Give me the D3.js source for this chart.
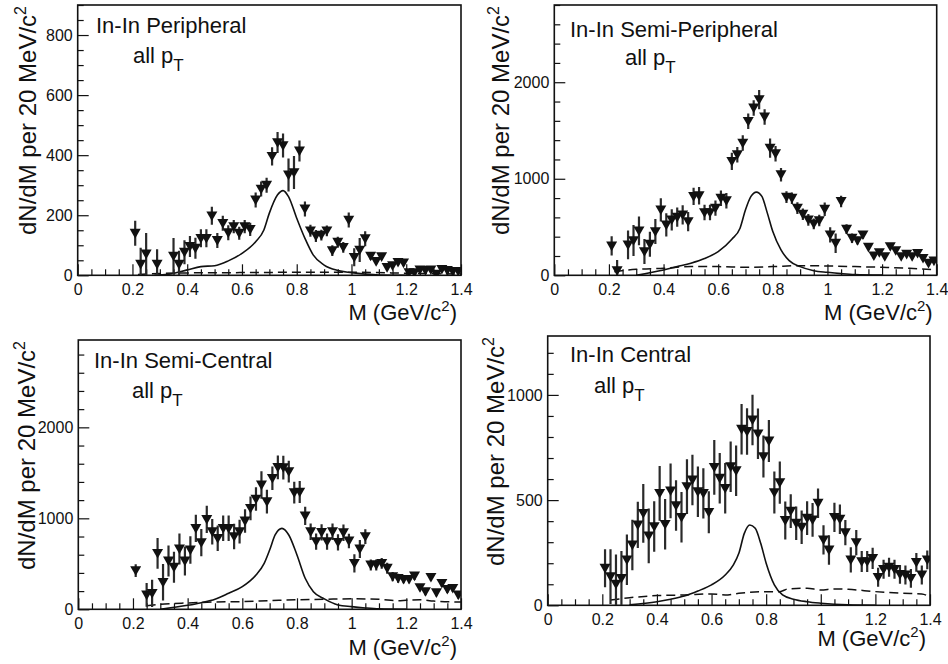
<!DOCTYPE html>
<html><head><meta charset="utf-8">
<script src="https://cdn.jsdelivr.net/npm/d3@7"></script>
<style>body{margin:0;background:#fff}svg{display:block}text{font-family:"Liberation Sans",Arial,Helvetica,sans-serif;fill:#111}</style>
</head><body><svg id="c" width="948" height="664"></svg>
<script>
// ---------- data ----------
const panelTitles = ["In-In Peripheral","In-In Semi-Peripheral","In-In Semi-Central","In-In Central"];
const xTickValues = [0,0.2,0.4,0.6,0.8,1,1.2,1.4];
const xTickLabels = ["0","0.2","0.4","0.6","0.8","1","1.2","1.4"];

// Peripheral
const periphM = [0.21,0.23,0.25,0.29,0.35,0.37,0.39,0.41,0.43,0.45,0.47,0.49,0.51,0.53,0.55,0.57,0.59,0.61,0.63,0.65,0.67,0.69,0.71,0.73,0.75,0.77,0.79,0.81,0.83,0.85,0.87,0.89,0.91,0.93,0.95,0.97,0.99,1.01,1.03,1.05,1.07,1.09,1.11,1.13,1.15,1.17,1.19,1.21,1.23,1.25,1.27,1.29,1.31,1.33,1.35,1.37,1.39];
const periphY = [140,37,71,37,64,37,77,96,90,123,123,198,116,173,142,162,140,162,153,251,287,300,396,442,432,334,342,414,221,148,131,134,148,82,110,93,184,60,84,122,64,46,62,26,32,43,41,9,9,18,16,18,4,20,16,13,13];
const periphErr = [42,55,70,50,60,45,40,35,35,30,30,30,25,25,25,22,22,22,22,25,25,25,30,35,40,55,55,35,25,20,20,18,18,18,18,18,25,30,40,25,12,10,10,8,8,8,8,6,6,6,6,6,6,6,6,6,6];
const periphRhoM = [0.28,0.33,0.4,0.45,0.5,0.55,0.6,0.65,0.68,0.7,0.73,0.75,0.77,0.8,0.83,0.86,0.9,0.95,1.0,1.05,1.1,1.2];
const periphRhoY = [0,3,18,29,32,48,73,112,151,207,268,282,262,190,123,68,34,16,9,4,1,0];
const periphBkgM = [0.22,0.3,0.4,0.6,0.8,1.0,1.2,1.4];
const periphBkgY = [3,6,8,9,10,10,7,4];

// Semi-Peripheral
const semiPerM = [0.21,0.23,0.27,0.29,0.31,0.33,0.35,0.37,0.39,0.41,0.43,0.45,0.47,0.49,0.51,0.53,0.55,0.57,0.59,0.61,0.63,0.65,0.67,0.69,0.71,0.73,0.75,0.77,0.79,0.81,0.83,0.85,0.87,0.89,0.91,0.93,0.95,0.97,0.99,1.01,1.03,1.05,1.07,1.09,1.11,1.13,1.15,1.17,1.19,1.21,1.23,1.25,1.27,1.29,1.31,1.33,1.35,1.37,1.39];
const semiPerY = [304,48,315,360,460,246,322,453,678,522,574,602,626,557,817,824,650,650,696,799,772,1180,1249,1370,1595,1734,1820,1640,1318,1260,1042,810,799,696,633,574,533,567,685,419,332,765,478,384,360,419,291,201,235,194,298,256,194,218,194,228,176,125,149];
const semiPerErr = [100,110,150,160,150,130,130,130,120,120,110,100,100,100,90,90,80,80,80,80,80,90,80,80,80,80,100,80,100,80,70,60,60,60,60,60,55,60,70,80,100,60,50,50,40,40,30,30,25,25,20,20,20,20,20,20,20,20,20];
const semiPerRhoM = [0.3,0.4,0.45,0.5,0.55,0.6,0.65,0.68,0.7,0.72,0.74,0.76,0.78,0.8,0.83,0.86,0.9,0.95,1.0,1.05,1.1,1.2];
const semiPerRhoY = [0,55,90,125,173,246,374,488,678,817,862,817,644,453,263,152,90,48,31,17,7,2];
const semiPerBkgM = [0.22,0.3,0.4,0.5,0.6,0.7,0.8,0.9,1.0,1.1,1.2,1.3,1.4];
const semiPerBkgY = [38,62,73,90,90,83,90,100,97,90,83,73,55];

// Semi-Central
const semiCenM = [0.21,0.25,0.27,0.29,0.31,0.33,0.35,0.37,0.39,0.41,0.43,0.45,0.47,0.49,0.51,0.53,0.55,0.57,0.59,0.61,0.63,0.65,0.67,0.69,0.71,0.73,0.75,0.77,0.79,0.81,0.83,0.85,0.87,0.89,0.91,0.93,0.95,0.97,0.99,1.01,1.03,1.05,1.07,1.09,1.11,1.13,1.15,1.17,1.19,1.21,1.23,1.25,1.27,1.29,1.31,1.33,1.35,1.37,1.39];
const semiCenY = [425,158,176,615,297,531,462,663,531,652,890,733,989,853,780,890,890,799,853,971,1110,1212,1366,1183,1440,1560,1557,1513,1282,1289,1026,853,744,846,744,853,736,842,751,505,663,799,487,487,505,451,359,341,330,330,366,238,194,352,183,286,220,231,158];
const semiCenErr = [70,130,150,170,200,170,170,170,160,150,150,150,150,140,140,140,140,140,130,130,130,130,150,130,130,130,130,120,120,120,100,90,90,90,90,90,90,90,80,100,100,80,60,60,60,60,50,50,45,45,45,40,40,40,40,40,40,40,40];
const semiCenRhoM = [0.3,0.4,0.45,0.5,0.55,0.6,0.65,0.68,0.7,0.72,0.745,0.77,0.8,0.83,0.86,0.9,0.95,1.0,1.05,1.1,1.2];
const semiCenRhoY = [0,44,73,110,176,249,377,505,652,817,890,817,597,341,194,114,48,29,15,5,0];
const semiCenBkgM = [0.25,0.3,0.4,0.5,0.6,0.7,0.8,0.9,1.0,1.1,1.17,1.2,1.25,1.3,1.4];
const semiCenBkgY = [40,55,70,80,85,95,105,110,115,110,95,100,105,90,80];

// Central
const centralM = [0.21,0.23,0.25,0.27,0.29,0.31,0.33,0.35,0.37,0.39,0.41,0.43,0.45,0.47,0.49,0.51,0.53,0.55,0.57,0.59,0.61,0.63,0.65,0.67,0.69,0.71,0.73,0.75,0.77,0.79,0.81,0.83,0.85,0.87,0.89,0.91,0.93,0.95,0.97,0.99,1.01,1.03,1.05,1.07,1.09,1.11,1.13,1.15,1.17,1.19,1.21,1.23,1.25,1.27,1.29,1.31,1.33,1.35,1.37,1.39];
const centralY = [176,136,101,128,216,287,382,437,330,374,532,385,544,474,418,564,596,540,532,442,656,604,556,659,640,837,826,881,815,707,781,536,583,403,448,390,371,414,406,485,311,263,418,409,345,216,298,208,208,223,133,171,181,171,147,144,128,204,144,216];
const centralErr = [90,130,140,130,120,120,110,140,130,120,130,120,130,120,120,130,120,120,120,100,130,120,120,120,120,120,110,120,120,100,100,100,100,90,80,80,80,80,80,70,70,70,70,70,60,60,60,50,50,50,45,45,45,45,45,45,45,45,45,45];
const centralRhoM = [0.3,0.4,0.45,0.5,0.55,0.6,0.65,0.68,0.7,0.72,0.74,0.76,0.78,0.8,0.83,0.86,0.9,0.95,1.0,1.05,1.1,1.2];
const centralRhoY = [2,17,29,44,68,97,144,192,247,342,382,366,295,200,97,49,29,17,10,5,2,0];
const centralBkgM = [0.23,0.3,0.4,0.5,0.6,0.65,0.7,0.8,0.85,0.88,0.95,1.0,1.05,1.1,1.2,1.3,1.37,1.4];
const centralBkgY = [25,36,46,49,54,49,57,65,65,78,81,73,78,76,65,57,54,38];

// ---------- layout (not data) ----------
const panels = [
  {title:panelTitles[0], f:{l:77.7,r:461,t:5,b:275.3}, ymax:900, yMajor:[0,200,400,600,800], yMinor:50,
   M:periphM,Y:periphY,E:periphErr, rM:periphRhoM,rY:periphRhoY, bM:periphBkgM,bY:periphBkgY,
   tt:{x:96,y:33}, pt:{x:133,y:63}, yl:{x:36}, xlDy:45},
  {title:panelTitles[1], f:{l:554.3,r:936.7,t:5,b:275.3}, ymax:2800, yMajor:[0,1000,2000], yMinor:200,
   M:semiPerM,Y:semiPerY,E:semiPerErr, rM:semiPerRhoM,rY:semiPerRhoY, bM:semiPerBkgM,bY:semiPerBkgY,
   tt:{x:570,y:37}, pt:{x:625,y:65}, yl:{x:509}, xlDy:45},
  {title:panelTitles[2], f:{l:78.3,r:461,t:340,b:609.3}, ymax:2960, yMajor:[0,1000,2000], yMinor:200,
   M:semiCenM,Y:semiCenY,E:semiCenErr, rM:semiCenRhoM,rY:semiCenRhoY, bM:semiCenBkgM,bY:semiCenBkgY,
   tt:{x:94,y:368}, pt:{x:132,y:398}, yl:{x:35}, xlDy:46},
  {title:panelTitles[3], f:{l:547.7,r:930,t:336,b:605.3}, ymax:1280, yMajor:[0,500,1000], yMinor:100,
   M:centralM,Y:centralY,E:centralErr, rM:centralRhoM,rY:centralRhoY, bM:centralBkgM,bY:centralBkgY,
   tt:{x:570,y:362}, pt:{x:594,y:393}, yl:{x:504}, xlDy:41}
];

const svg = d3.select("#c");
svg.append("rect").attr("width",948).attr("height",664).attr("fill","#fff");

panels.forEach(p => {
  const x = d3.scaleLinear().domain([0,1.4]).range([p.f.l,p.f.r]);
  const y = d3.scaleLinear().domain([0,p.ymax]).range([p.f.b,p.f.t]);
  const g = svg.append("g");

  // minor ticks
  const xMinor = d3.range(0,1.4001,0.05).filter(v=>Math.abs(v/0.2-Math.round(v/0.2))>1e-6);
  g.append("g").attr("transform",`translate(0,${p.f.b})`)
    .call(d3.axisBottom(x).tickValues(xMinor).tickSizeInner(-6).tickSizeOuter(0).tickFormat(""))
    .call(a=>a.select(".domain").remove()).selectAll("line").attr("stroke","#111").attr("stroke-width",1.2);
  const yMinorVals = d3.range(0,p.ymax+1e-6,p.yMinor).filter(v=>!p.yMajor.includes(Math.round(v)));
  g.append("g").attr("transform",`translate(${p.f.l},0)`)
    .call(d3.axisLeft(y).tickValues(yMinorVals).tickSizeInner(-6).tickSizeOuter(0).tickFormat(""))
    .call(a=>a.select(".domain").remove()).selectAll("line").attr("stroke","#111").attr("stroke-width",1.2);

  // major ticks
  const xa = g.append("g").attr("transform",`translate(0,${p.f.b})`)
    .call(d3.axisBottom(x).tickValues(xTickValues).tickSizeInner(-11).tickSizeOuter(0).tickPadding(8)
      .tickFormat((d,i)=>xTickLabels[i]));
  xa.select(".domain").remove();
  xa.selectAll("line").attr("stroke","#111").attr("stroke-width",1.2);
  xa.selectAll("text").attr("font-size",16).attr("fill","#111").style("font-family","'Liberation Sans',Arial,sans-serif");
  const ya = g.append("g").attr("transform",`translate(${p.f.l},0)`)
    .call(d3.axisLeft(y).tickValues(p.yMajor).tickSizeInner(-11).tickSizeOuter(0).tickPadding(5)
      .tickFormat(d=>String(d)));
  ya.select(".domain").remove();
  ya.selectAll("line").attr("stroke","#111").attr("stroke-width",1.2);
  ya.selectAll("text").attr("font-size",16).attr("fill","#111").style("font-family","'Liberation Sans',Arial,sans-serif");

  // frame
  g.append("rect").attr("x",p.f.l).attr("y",p.f.t).attr("width",p.f.r-p.f.l).attr("height",p.f.b-p.f.t)
    .attr("fill","none").attr("stroke","#111").attr("stroke-width",1.6);

  const clipId = "clip"+Math.round(p.f.l)+"_"+Math.round(p.f.t);
  svg.append("clipPath").attr("id",clipId).append("rect")
    .attr("x",p.f.l).attr("y",p.f.t).attr("width",p.f.r-p.f.l).attr("height",p.f.b-p.f.t);
  const pg = g.append("g").attr("clip-path",`url(#${clipId})`);

  // curves
  const line = d3.line().x(d=>x(d[0])).y(d=>y(d[1])).curve(d3.curveMonotoneX);
  pg.append("path").attr("d",line(p.bM.map((m,i)=>[m,p.bY[i]])))
    .attr("fill","none").attr("stroke","#111").attr("stroke-width",1.5).attr("stroke-dasharray","9,5");
  pg.append("path").attr("d",line(p.rM.map((m,i)=>[m,p.rY[i]])))
    .attr("fill","none").attr("stroke","#111").attr("stroke-width",1.6);

  // error bars
  const pts = p.M.map((m,i)=>({m, v:p.Y[i], e:p.E[i]}));
  pg.selectAll(".eb").data(pts).join("line")
    .attr("x1",d=>x(d.m)).attr("x2",d=>x(d.m))
    .attr("y1",d=>y(Math.max(0,d.v-d.e))).attr("y2",d=>y(d.v+d.e))
    .attr("stroke","#2a2a2a").attr("stroke-width",2.2);
  // markers: downward triangles
  const s = 5.5;
  pg.selectAll(".mk").data(pts).join("path")
    .attr("d",d=>{const cx=x(d.m), cy=y(d.v); return `M${cx-s},${cy-s*0.8}L${cx+s},${cy-s*0.8}L${cx},${cy+s*0.95}Z`;})
    .attr("fill","#111");

  // texts
  g.append("text").attr("x",p.tt.x).attr("y",p.tt.y).attr("font-size",22).text(p.title);
  const pt = g.append("text").attr("x",p.pt.x).attr("y",p.pt.y).attr("font-size",22);
  pt.append("tspan").text("all p");
  pt.append("tspan").attr("dy",8).attr("font-size",17).text("T");

  const yl = g.append("text").attr("transform",`translate(${p.yl.x},${p.f.t+1}) rotate(-90)`)
    .attr("text-anchor","end").attr("font-size",24);
  yl.append("tspan").text("dN/dM per 20 MeV/c");
  yl.append("tspan").attr("dy",-10).attr("font-size",16).text("2");

  const xl = g.append("text").attr("x",p.f.r-4).attr("y",p.f.b+p.xlDy).attr("text-anchor","end").attr("font-size",22);
  xl.append("tspan").text("M (GeV/c");
  xl.append("tspan").attr("dy",-9).attr("font-size",15).text("2");
  xl.append("tspan").attr("dy",9).text(")");
});
</script></body></html>
